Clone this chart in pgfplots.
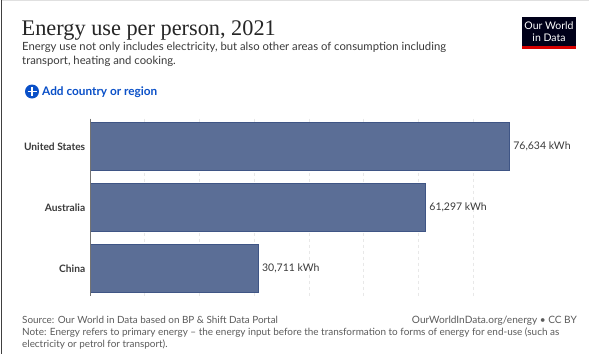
\documentclass[border=0pt]{standalone}
\usepackage{pgfplots}
\pgfplotsset{compat=1.18}
\usepackage{fontspec}
\setmainfont{Lato}
\newfontfamily\titlefont{Liberation Serif}
\definecolor{barc}{HTML}{5B6E96}
\definecolor{bare}{HTML}{3F5585}
\definecolor{txt}{HTML}{3A3A3A}
\definecolor{foot}{HTML}{5B5B5B}
\definecolor{addc}{HTML}{0A50C8}
\begin{document}
\begin{tikzpicture}[x=1pt,y=-1pt]
\path[use as bounding box] (0,0) rectangle (589,354);
\fill[white] (0,0) rectangle (589,354);
\draw[black!75,line width=0.8pt] (1.5,0) -- (1.5,354);
\draw[black!12,line width=0.6pt] (2,0.5) -- (589,0.5);
\begin{axis}[
  at={(90pt,-295.5pt)},anchor=south west,
  scale only axis,width=437.6pt,height=177pt,
  xmin=0,xmax=80000,ymin=-0.459,ymax=2.443,y dir=reverse,
  axis line style={draw=none},
  xbar,bar width=48.5pt,
  scaled x ticks=false,
  xtick={10000,20000,30000,40000,50000,60000,70000},
  xticklabel=\empty,xtick style={draw=none},
  xmajorgrids,
  major grid style={dashed,black!9,line width=0.5pt},
  ytick={0,1,2},yticklabels={United States,Australia,China},
  ytick style={draw=none},
  yticklabel style={font=\fontsize{10.2}{12}\selectfont\bfseries,text=txt,xshift=3pt},
  clip=false,
  point meta=x,
  /pgf/number format/assume math mode=true,
  nodes near coords={\pgfmathprintnumber[1000 sep={,},assume math mode=true]{\pgfplotspointmeta} kWh},
  nodes near coords style={font=\fontsize{10.5}{12}\selectfont,text=txt,anchor=west,xshift=0.5pt},
]
\addplot[fill=barc,draw=bare,line width=0.6pt] coordinates {(76634,0) (61297,1) (30711,2)};
\draw[black!55,line width=0.7pt] (axis cs:0,-0.459) -- (axis cs:0,2.443);
\end{axis}
\node[anchor=base west,inner sep=0,font=\titlefont\fontsize{22.3}{26}\selectfont,text=black!85] at (21.5,35) {Energy use per person, 2021};
\node[anchor=base west,inner sep=0,font=\fontsize{11.3}{12}\selectfont,text=txt] at (22,50) {Energy use not only includes electricity, but also other areas of consumption including};
\node[anchor=base west,inner sep=0,font=\fontsize{11.3}{12}\selectfont,text=txt] at (22,64) {transport, heating and cooking.};
\fill[addc] (32,91.5) circle (7);
\draw[white,line width=1.5pt] (27.5,91.5) -- (36.5,91.5) (32,87) -- (32,96);
\node[anchor=base west,inner sep=0,font=\fontsize{11.8}{13}\selectfont\bfseries,text=addc] at (42,95.5) {Add country or region};
\fill[black!90!blue] (522,17) rectangle (576,46);
\fill[red!85!black] (522,46) rectangle (576,49);
\node[align=center,text=white,inner sep=0,font=\fontsize{10.5}{12}\selectfont] at (549,31.5) {Our World\\in Data};
\node[anchor=base west,inner sep=0,font=\fontsize{9.9}{11}\selectfont,text=foot] at (22,323) {Source: Our World in Data based on BP \& Shift Data Portal};
\node[anchor=base east,inner sep=0,font=\fontsize{10.1}{11}\selectfont,text=foot] at (577,323) {OurWorldInData.org/energy • CC BY};
\node[anchor=base west,inner sep=0,font=\fontsize{9.95}{11}\selectfont,text=foot] at (22,335) {Note: Energy refers to primary energy – the energy input before the transformation to forms of energy for end-use (such as};
\node[anchor=base west,inner sep=0,font=\fontsize{9.9}{11}\selectfont,text=foot] at (22,347) {electricity or petrol for transport).};
\end{tikzpicture}
\end{document}
